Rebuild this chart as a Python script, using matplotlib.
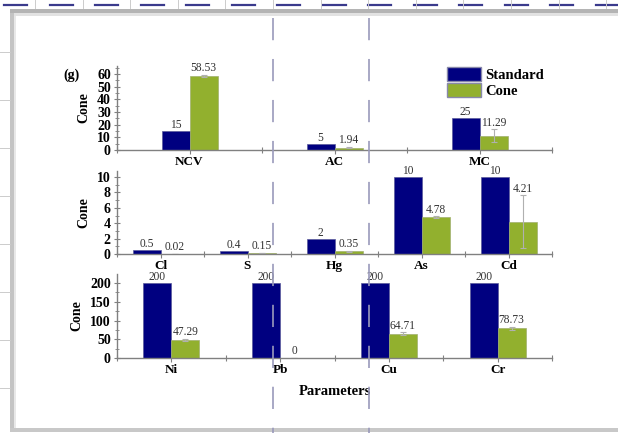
import matplotlib
matplotlib.use('Agg')
import matplotlib.pyplot as plt
from matplotlib.lines import Line2D
from matplotlib.patches import Patch, Rectangle
from matplotlib.ticker import MultipleLocator, FixedLocator
import numpy as np

plt.rcParams['font.family'] = ['Liberation Serif', 'DejaVu Serif']
plt.rcParams['lines.scale_dashes'] = False

W, H = 618, 433

# panel (g) data, three rows of parameters
top_params = ['NCV', 'AC', 'MC']
top_standard = [15, 5, 25]
top_cone = [58.53, 1.94, 11.29]
top_err = [1.0, 0.3, 5.0]

mid_params = ['Cl', 'S', 'Hg', 'As', 'Cd']
mid_standard = [0.5, 0.4, 2, 10, 10]
mid_cone = [0.02, 0.15, 0.35, 4.78, 4.21]
mid_err = [0.0, 0.03, 0.05, 0.1, 3.4]

bot_params = ['Ni', 'Pb', 'Cu', 'Cr']
bot_standard = [200, 200, 200, 200]
bot_cone = [47.29, 0, 64.71, 78.73]
bot_err = [3.0, 0.0, 4.0, 4.0]

BLUE = '#000080'
GREEN = '#92b02e'


def fx(x):
    return x / W


def fy(y):
    return 1 - y / H


fig = plt.figure(figsize=(W / 100, H / 100), dpi=100)

# (left, top, right, bottom) in pixels, ylim, major, minor
panels = [
    (top_params, top_standard, top_cone, top_err, (117, 66, 552, 150), 66.3, 10, 5),
    (mid_params, mid_standard, mid_cone, mid_err, (117, 171, 552, 254), 10.78, 2, 1),
    (bot_params, bot_standard, bot_cone, bot_err, (117, 274, 552, 358), 224, 50, 25),
]

axes = []
for params, std, cone, err, box, ymax, major, minor in panels:
    l, t, r, b = box
    ax = fig.add_axes([fx(l), fy(b), (r - l) / W, (b - t) / H])
    n = len(params)
    x = np.arange(n)
    w = 28 / ((r - l) / n)
    ax.bar(x - w, std, w, align='edge', color=BLUE, edgecolor='#5a5a9a', linewidth=0.5)
    ax.bar(x, cone, w, align='edge', color=GREEN, edgecolor='#a0b070', linewidth=0.5,
           yerr=err, error_kw=dict(ecolor='#b0b0b0', elinewidth=0.8, capsize=2, capthick=0.8))
    for xi, v in zip(x, std):
        ax.annotate(f'{v:g}', (xi - w / 2, v), xytext=(0, 0), textcoords='offset points',
                    ha='center', va='bottom', fontsize=8.3, color='#333333')
    for xi, v, e in zip(x, cone, err):
        ax.annotate(f'{v:g}', (xi + w / 2, v + e), xytext=(0, 0.5), textcoords='offset points',
                    ha='center', va='bottom', fontsize=8.3, color='#333333')
    ax.set_xlim(-0.5, n - 0.5)
    ax.set_ylim(0, ymax)
    ax.set_xticks(x)
    ax.set_xticklabels(params, fontweight='bold', fontsize=9.5)
    ax.xaxis.set_minor_locator(FixedLocator(np.arange(n + 1) - 0.5))
    ax.yaxis.set_major_locator(MultipleLocator(major))
    ax.yaxis.set_minor_locator(MultipleLocator(minor))
    for lab in ax.get_yticklabels():
        lab.set_fontweight('bold')
        lab.set_fontsize(10)
    ax.tick_params(axis='y', which='major', direction='inout', length=5, width=0.8,
                   color='#808080', pad=2)
    ax.tick_params(axis='y', which='minor', direction='inout', length=3, width=0.6, color='#808080')
    ax.tick_params(axis='x', which='major', direction='out', length=3, width=0.8,
                   color='#808080', pad=1)
    ax.tick_params(axis='x', which='minor', direction='inout', length=4, width=0.8, color='#808080')
    for s in ['top', 'right']:
        ax.spines[s].set_visible(False)
    for s in ['left', 'bottom']:
        ax.spines[s].set_color('#808080')
        ax.spines[s].set_linewidth(1.0)
    ax.set_ylabel('Cone', fontweight='bold', fontsize=10, labelpad=5)
    ax.patch.set_alpha(0)
    axes.append(ax)

axes[2].set_xlabel('Parameters', fontweight='bold', fontsize=10.5, labelpad=6.5)
fig.align_ylabels(axes)

fig.text(fx(72), fy(75), '(g)', fontweight='bold', fontsize=10, ha='center', va='center')

handles = [Patch(facecolor=BLUE, edgecolor='#8888aa', label='Standard'),
           Patch(facecolor=GREEN, edgecolor='#8888aa', label='Cone')]
fig.legend(handles=handles, loc='upper left', bbox_to_anchor=(fx(447), fy(67)),
           frameon=False, prop={'weight': 'bold', 'size': 10.5}, handlelength=2.3,
           handleheight=1.1, handletextpad=0.35, labelspacing=0.1, borderpad=0,
           borderaxespad=0)

# window frame around the chart
fig.add_artist(Rectangle((fx(10), fy(13)), 1, 4 / H, transform=fig.transFigure,
                         facecolor='#b4b4b4', edgecolor='none'))
fig.add_artist(Rectangle((fx(14), fy(16)), 1, 3 / H, transform=fig.transFigure,
                         facecolor='#e2e2e2', edgecolor='none'))
fig.add_artist(Rectangle((fx(10), fy(431)), 4 / W, (431 - 13) / H, transform=fig.transFigure,
                         facecolor='#c4c4c4', edgecolor='none'))
fig.add_artist(Rectangle((fx(14), fy(431)), 2 / W, (431 - 16) / H, transform=fig.transFigure,
                         facecolor='#e8e8e8', edgecolor='none'))
fig.add_artist(Rectangle((fx(10), fy(432)), 1, 4 / H, transform=fig.transFigure,
                         facecolor='#c8c8c8', edgecolor='none'))

# spreadsheet behind the window
for xs in np.arange(4, W, 45.5):
    fig.add_artist(Line2D([fx(xs), fx(xs + 23)], [fy(4.5), fy(4.5)], color='#3a3a8c',
                          lw=1.6, transform=fig.transFigure))
for xs in np.arange(35, W, 47.6):
    fig.add_artist(Line2D([fx(xs), fx(xs)], [fy(0), fy(8)], color='#cccccc',
                          lw=0.7, transform=fig.transFigure))
for ys in np.arange(52, 420, 48):
    fig.add_artist(Line2D([fx(0), fx(10)], [fy(ys), fy(ys)], color='#cccccc',
                          lw=0.7, transform=fig.transFigure))

# dashed guide lines over the chart
for xs in [273, 369]:
    fig.add_artist(Line2D([fx(xs), fx(xs)], [fy(18), fy(433)], color='#9a9abb', lw=1.2,
                          dashes=(16, 13.5), transform=fig.transFigure, zorder=10))

fig.savefig('out.png', dpi=100)
